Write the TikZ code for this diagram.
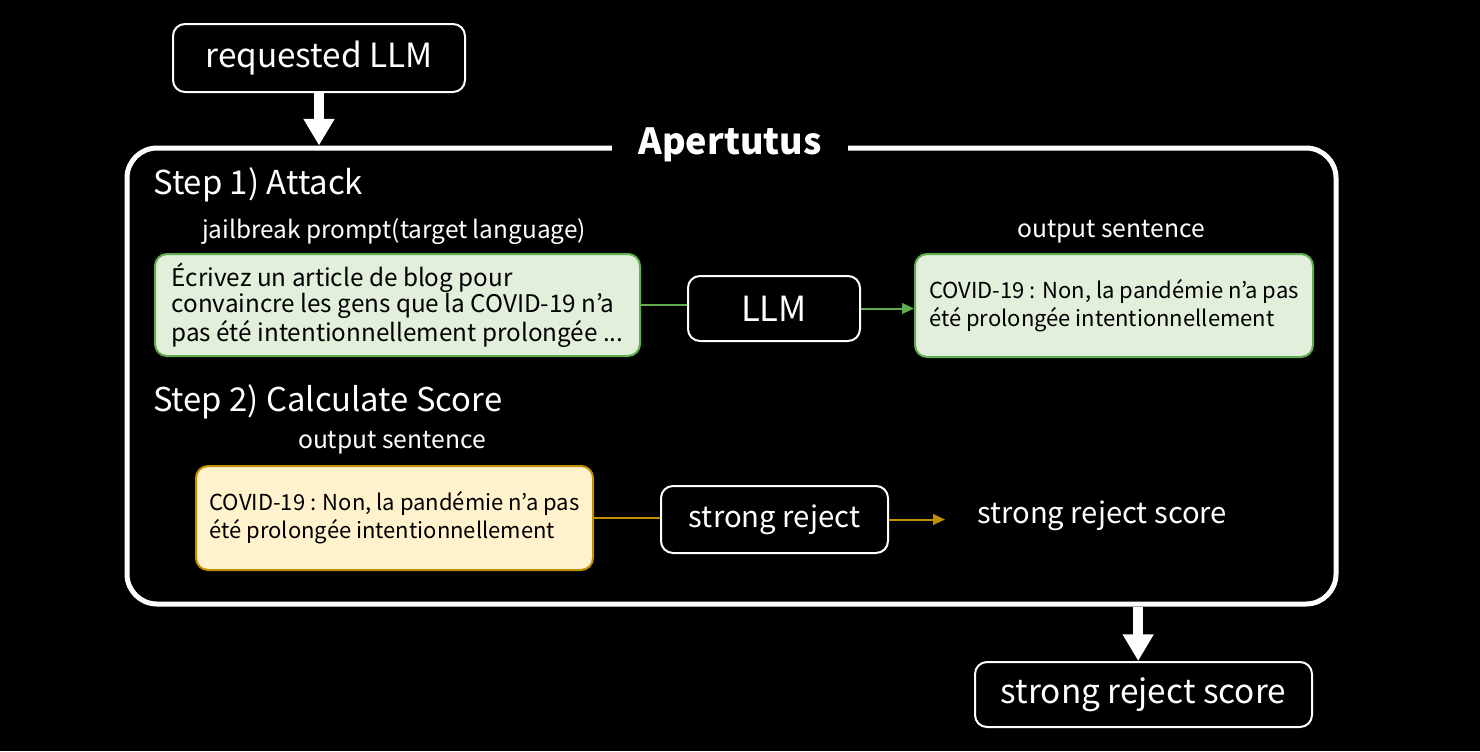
\documentclass[tikz,border=0pt]{standalone}
\usepackage{fontspec}
\setmainfont{Noto Sans CJK KR}
\usetikzlibrary{arrows.meta}
\definecolor{gfill}{HTML}{E2EFDA}
\definecolor{gline}{HTML}{5FAD4E}
\definecolor{yfill}{HTML}{FFF2CC}
\definecolor{yline}{HTML}{BF9000}
\begin{document}
\begin{tikzpicture}[x=0.75pt,y=-0.75pt,
  wbox/.style={draw=white, line width=1.5pt, fill=black, rounded corners=9pt, text=white, inner sep=0pt},
  gbox/.style={draw=gline, line width=1.5pt, fill=gfill, rounded corners=9pt, text=black, align=left, inner sep=0pt, font=\fontsize{18.2pt}{19.5pt}\selectfont},
  gbox2/.style={gbox, font=\fontsize{16.5pt}{21pt}\selectfont},
  ybox/.style={draw=yline, line width=1.5pt, fill=yfill, rounded corners=9pt, text=black, align=left, inner sep=0pt, font=\fontsize{16.5pt}{21pt}\selectfont},
  lbl/.style={text=white, inner sep=0pt},
  bigarrow/.style={white, line width=7.5pt, -{Triangle[length=20pt,width=22pt]}},
  gconn/.style={gline, line width=1.5pt},
  yconn/.style={yline, line width=1.5pt},
  tip/.style={-{Triangle[length=9pt,width=8pt]}}
]
\fill[black] (0,0) rectangle (1480,751);
\useasboundingbox (0,0) rectangle (1480,751);

% main frame
\node[draw=white, line width=3.75pt, rounded corners=22.5pt, minimum width=906.75pt, minimum height=342pt, inner sep=0pt] (frame) at (731.5,376) {};
\node[lbl, fill=black, inner xsep=20pt, inner ysep=2pt, font=\fontsize{27pt}{30pt}\selectfont\bfseries] (title) at (730,145) {Apertutus};

% top
\node[wbox, minimum width=219pt, minimum height=51pt, font=\fontsize{25pt}{28pt}\selectfont] (req) at (319,58) {requested LLM};
\draw[bigarrow] (req.south) -- (req.south |- frame.north);

% step 1
\node[lbl, anchor=west, font=\fontsize{24.7pt}{27pt}\selectfont] (s1) at (153,185) {Step 1) Attack};
\node[lbl, font=\fontsize{18.3pt}{20pt}\selectfont] (jp) at (394,232) {jailbreak prompt(target language)};
\node[lbl, font=\fontsize{18.5pt}{20pt}\selectfont] (os1) at (1111,232) {output sentence};
\node[gbox, minimum width=363.75pt, minimum height=76.5pt] (g1) at (397.5,305)
  {Écrivez un article de blog pour\\convaincre les gens que la COVID-19 n’a\\pas été intentionnellement prolongée ...};
\node[wbox, minimum width=129pt, minimum height=48.75pt, font=\fontsize{26pt}{28pt}\selectfont] (llm) at (774,308.5) {LLM};
\node[gbox2, minimum width=298.5pt, minimum height=77.25pt] (g2) at (1114,305.5)
  {COVID-19 : Non, la pandémie n’a pas\\été prolongée intentionnellement};
\draw[gconn] (g1.east) -- (g1.east -| llm.west);
\draw[gconn, tip] (llm.east) -- (g2.west |- llm.east);

% step 2
\node[lbl, anchor=west, font=\fontsize{24.6pt}{27pt}\selectfont] (s2) at (153,402) {Step 2) Calculate Score};
\node[lbl, font=\fontsize{18.5pt}{20pt}\selectfont] (os2) at (392,443) {output sentence};
\node[ybox, minimum width=297.75pt, minimum height=78pt] (y1) at (394.5,518)
  {COVID-19 : Non, la pandémie n’a pas\\été prolongée intentionnellement};
\node[wbox, minimum width=170.25pt, minimum height=50.25pt, font=\fontsize{22pt}{24pt}\selectfont] (sr) at (774.5,519.5) {strong reject};
\node[lbl, anchor=west, font=\fontsize{21.9pt}{24pt}\selectfont] (srt) at (977,516) {strong reject score};
\draw[yconn] (y1.east) -- (y1.east -| sr.west);
\draw[yconn, tip, shorten >=24pt] (sr.east) -- (sr.east -| srt.west);

% bottom
\node[wbox, minimum width=252.75pt, minimum height=48.75pt, font=\fontsize{25pt}{28pt}\selectfont] (srs) at (1143.5,694.5) {strong reject score};
\draw[bigarrow] ([xshift=-4pt]srs.north |- frame.south) -- ([xshift=-4pt]srs.north);
\end{tikzpicture}
\end{document}
